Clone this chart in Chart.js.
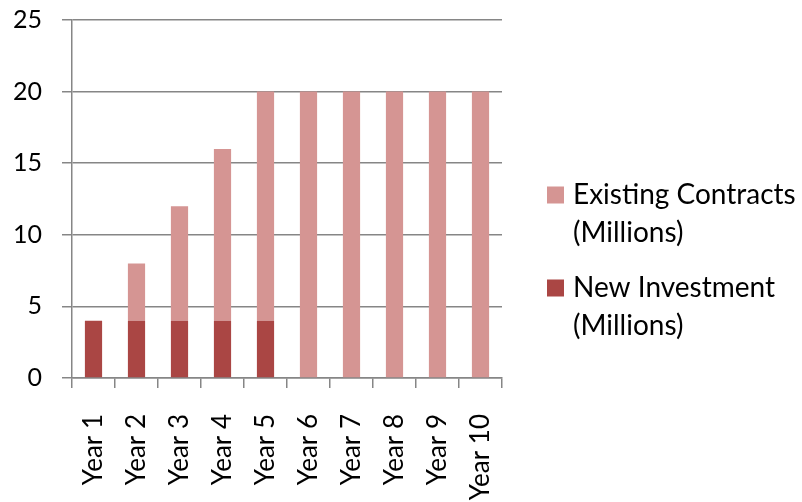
<!DOCTYPE html>
<html>
<head>
<meta charset="utf-8">
<script src="https://cdn.jsdelivr.net/npm/chart.js@4"></script>
<style>
  html, body { margin: 0; padding: 0; background: #fff; }
  #wrap { width: 802px; height: 502px; }
</style>
</head>
<body>
<div id="wrap"><canvas id="chart" width="802" height="502"></canvas></div>
<script>
// chart data
const years = ['Year 1', 'Year 2', 'Year 3', 'Year 4', 'Year 5', 'Year 6', 'Year 7', 'Year 8', 'Year 9', 'Year 10'];
const newInvestment = [4, 4, 4, 4, 4, 0, 0, 0, 0, 0];
const existingContracts = [0, 4, 8, 12, 16, 20, 20, 20, 20, 20];
const seriesNames = [['Existing Contracts', '(Millions)'], ['New Investment', '(Millions)']];
const yTicks = [0, 5, 10, 15, 20, 25];

const FONT = 'Lato, "Open Sans", sans-serif';
const axisGray = '#868686';

// draws the two-line legend on the right side
const sideLegend = {
  id: 'sideLegend',
  afterDraw(chart) {
    const ctx = chart.ctx;
    const x = 547, box = 17, tx = 573, lineH = 38;
    const tops = [195, 288];
    // legend order: existing first, then new investment
    const order = [1, 0];
    ctx.save();
    ctx.font = '28px ' + FONT;
    ctx.textBaseline = 'middle';
    ctx.textAlign = 'left';
    order.forEach((dsIdx, i) => {
      const ds = chart.data.datasets[dsIdx];
      const y = tops[i];
      ctx.fillStyle = ds.backgroundColor;
      ctx.fillRect(x, y - box / 2, box, box);
      ctx.fillStyle = '#000';
      seriesNames[i].forEach((line, j) => ctx.fillText(line, tx, y + j * lineH));
    });
    ctx.restore();
  }
};

new Chart(document.getElementById('chart').getContext('2d'), {
  type: 'bar',
  data: {
    labels: years,
    datasets: [
      {
        label: seriesNames[1].join(' '),
        data: newInvestment,
        backgroundColor: '#AA4644',
        categoryPercentage: 1,
        barPercentage: 0.4
      },
      {
        label: seriesNames[0].join(' '),
        data: existingContracts,
        backgroundColor: '#D59593',
        categoryPercentage: 1,
        barPercentage: 0.4
      }
    ]
  },
  options: {
    responsive: false,
    animation: false,
    layout: { padding: { top: 20, right: 300, left: 0, bottom: 0 } },
    plugins: {
      legend: { display: false },
      tooltip: { enabled: false }
    },
    scales: {
      x: {
        stacked: true,
        afterFit: (s) => { s.height = 124; s.paddingLeft = 0; s.paddingRight = 0; },
        grid: { offset: true, drawOnChartArea: false, drawTicks: true, tickLength: 10, color: axisGray, lineWidth: 1.5 },
        border: { color: axisGray, width: 1.5 },
        ticks: { maxRotation: 90, minRotation: 90, padding: 26, color: '#000', font: { family: FONT, size: 26 } }
      },
      y: {
        stacked: true,
        min: 0,
        max: 25,
        afterFit: (s) => { s.width = 72; s.paddingTop = 0; s.paddingBottom = 0; },
        afterBuildTicks: (s) => { s.ticks = yTicks.map(v => ({ value: v })); },
        grid: { color: axisGray, lineWidth: 1.5, tickLength: 10 },
        border: { color: axisGray, width: 1.5 },
        ticks: { padding: 20, color: '#000', font: { family: FONT, size: 25 } }
      }
    }
  },
  plugins: [sideLegend]
});
</script>
</body>
</html>
